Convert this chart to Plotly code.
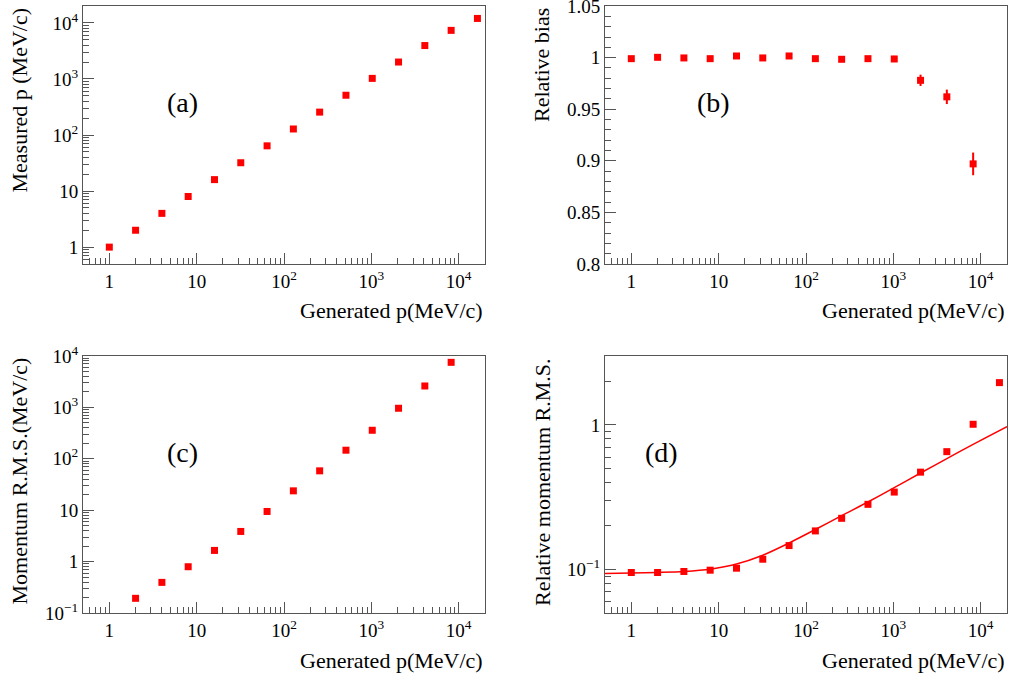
import math
import plotly.graph_objects as go

# ---------------- data ----------------
gen_p = [1, 2, 4, 8, 16, 32, 64, 128, 256, 512, 1024, 2048, 4096, 8192, 16384]
measured_p = [1.0, 2.0, 4.0, 8.0, 16.0, 32.0, 64.1, 128, 256, 512, 1023, 2003, 3940, 7350, 12000]

bias_p = [1, 2, 4, 8, 16, 32, 64, 128, 256, 512, 1024, 2048, 4096, 8192]
bias = [0.999, 1.0003, 0.9997, 0.999, 1.0016, 0.9997, 1.0016, 0.999, 0.9984, 0.999,
        0.9987, 0.978, 0.962, 0.897]
bias_err = [0.0003, 0.0003, 0.0003, 0.0003, 0.0003, 0.0003, 0.0003, 0.0003, 0.0003, 0.0004,
            0.003, 0.0055, 0.007, 0.011]

rms_p = [2, 4, 8, 16, 32, 64, 128, 256, 512, 1024, 2048, 4096, 8192]
rms = [0.193, 0.394, 0.795, 1.65, 3.86, 9.45, 23.8, 58.3, 147, 359, 962, 2610, 7530]

rel_rms = [0.0953, 0.0953, 0.0969, 0.0989, 0.1021, 0.1178, 0.1464, 0.1849, 0.226,
           0.2824, 0.3433, 0.4716, 0.6535, 1.011, 1.963]

fit_p = [0.5, 1, 2, 4, 8, 16, 32, 64, 128, 256, 512, 1024, 2048, 4096, 8192, 20000]
fit_rel = [0.094, 0.0945, 0.0955, 0.097, 0.1005, 0.109, 0.1255, 0.1525, 0.189, 0.236,
           0.293, 0.368, 0.465, 0.585, 0.735, 0.975]

panel_labels = ["(a)", "(b)", "(c)", "(d)"]
x_title = "Generated p(MeV/c)"
y_titles = ["Measured p (MeV/c)", "Relative bias", "Momentum R.M.S.(MeV/c)",
            "Relative momentum R.M.S."]
bias_ticks = [0.8, 0.85, 0.9, 0.95, 1.0, 1.05]
bias_ticktext = ["0.8", "0.85", "0.9", "0.95", "1", "1.05"]

# ---------------- styling ----------------
W, H = 1010, 677
FONT = "Liberation Serif"
RED = "#ff0000"
FRAME = "#555555"
TICKFS = 19
TITLEFS = 22

def px_x(p):
    return p / W

def px_y(p):
    return 1 - p / H

left_dom = [px_x(83), px_x(485)]
right_dom = [px_x(605), px_x(1007)]
top_dom = [px_y(264), px_y(6)]
bot_dom = [px_y(613), px_y(356)]

dec_text = {0.1: "10<sup>−1</sup>", 1: "1", 10: "10", 100: "10<sup>2</sup>",
            1000: "10<sup>3</sup>", 10000: "10<sup>4</sup>"}

def log_minor(lo, hi):
    vals = []
    d = 0.01
    while d < 1e6:
        for k in range(2, 10):
            v = k * d
            if lo <= v <= hi:
                vals.append(v)
        d *= 10
    return vals

def log_axis(lo, hi, domain, anchor, majors):
    return dict(
        type="log", range=[math.log10(lo), math.log10(hi)], domain=domain, anchor=anchor,
        autorange=False, automargin=False, ticklabeloverflow="allow",
        tickmode="array", tickvals=majors, ticktext=[dec_text[m] for m in majors],
        ticks="inside", ticklen=11, tickwidth=1, tickcolor=FRAME,
        minor=dict(tickmode="array", tickvals=log_minor(lo, hi), ticks="inside",
                   ticklen=6, tickwidth=1, tickcolor=FRAME),
        showline=True, linecolor=FRAME, linewidth=1, mirror=True,
        showgrid=False, zeroline=False,
        tickfont=dict(family=FONT, size=TICKFS, color="black"),
    )

fig = go.Figure()

mk = dict(symbol="square", size=7, color=RED, line=dict(width=0))

fig.add_trace(go.Scatter(x=gen_p, y=measured_p, mode="markers", marker=mk,
                         xaxis="x", yaxis="y", showlegend=False))
fig.add_trace(go.Scatter(x=bias_p, y=bias, mode="markers", marker=mk,
                         error_y=dict(type="data", array=bias_err, color=RED, thickness=2, width=0),
                         xaxis="x2", yaxis="y2", showlegend=False))
fig.add_trace(go.Scatter(x=rms_p, y=rms, mode="markers", marker=mk,
                         xaxis="x3", yaxis="y3", showlegend=False))
fig.add_trace(go.Scatter(x=fit_p, y=fit_rel, mode="lines",
                         line=dict(color=RED, width=1.5, shape="spline", smoothing=0.8),
                         xaxis="x4", yaxis="y4", showlegend=False))
fig.add_trace(go.Scatter(x=gen_p, y=rel_rms, mode="markers", marker=mk,
                         xaxis="x4", yaxis="y4", showlegend=False))

xmaj = [1, 10, 100, 1000, 10000]
layout = dict(
    template="none",
    width=W, height=H, margin=dict(l=0, r=0, t=0, b=0, pad=0), autosize=False,
    paper_bgcolor="white", plot_bgcolor="white", showlegend=False,
    font=dict(family=FONT, color="black"),
    xaxis=log_axis(0.5, 2e4, left_dom, "y", xmaj),
    yaxis=log_axis(0.5, 2e4, top_dom, "x", [1, 10, 100, 1000, 10000]),
    xaxis2=log_axis(0.5, 2e4, right_dom, "y2", xmaj),
    yaxis2=dict(
        range=[0.79995, 1.05005], domain=top_dom, anchor="x2", autorange=False, automargin=False,
        ticklabeloverflow="allow",
        tickmode="array", tickvals=bias_ticks, ticktext=bias_ticktext,
        ticks="inside", ticklen=11, tickwidth=1, tickcolor=FRAME,
        minor=dict(dtick=0.01, tick0=0.8, ticks="inside", ticklen=6, tickwidth=1, tickcolor=FRAME),
        showline=True, linecolor=FRAME, linewidth=1, mirror=True,
        showgrid=False, zeroline=False,
        tickfont=dict(family=FONT, size=TICKFS, color="black"),
    ),
    xaxis3=log_axis(0.5, 2e4, left_dom, "y3", xmaj),
    yaxis3=log_axis(0.1, 1e4, bot_dom, "x3", [0.1, 1, 10, 100, 1000, 10000]),
    xaxis4=log_axis(0.5, 2e4, right_dom, "y4", xmaj),
    yaxis4=log_axis(0.05, 3, bot_dom, "x4", [0.1, 1]),
)
fig.update_layout(**layout)

anns = []
for lab, (cx, cy) in zip(panel_labels, [(182, 103), (713, 103), (182, 453), (661, 453)]):
    anns.append(dict(text=lab, x=px_x(cx), y=px_y(cy), xref="paper", yref="paper",
                     xanchor="center", yanchor="middle", showarrow=False,
                     font=dict(family=FONT, size=28, color="black")))
for rx, cy in [(485, 310), (1007, 310), (485, 660), (1007, 660)]:
    anns.append(dict(text=x_title, x=px_x(rx), y=px_y(cy), xref="paper", yref="paper",
                     xanchor="right", yanchor="middle", showarrow=False,
                     font=dict(family=FONT, size=TITLEFS, color="black")))
for t, (cx, ty) in zip(y_titles, [(19, 6), (542, 6), (19, 356), (542, 356)]):
    anns.append(dict(text=t, x=px_x(cx), y=px_y(ty), xref="paper", yref="paper",
                     xanchor="center", yanchor="top", textangle=-90, showarrow=False,
                     font=dict(family=FONT, size=TITLEFS, color="black")))
fig.update_layout(annotations=anns)

fig.write_html("out.html", config={"displayModeBar": False},
               post_script="document.body.style.margin='0';")
